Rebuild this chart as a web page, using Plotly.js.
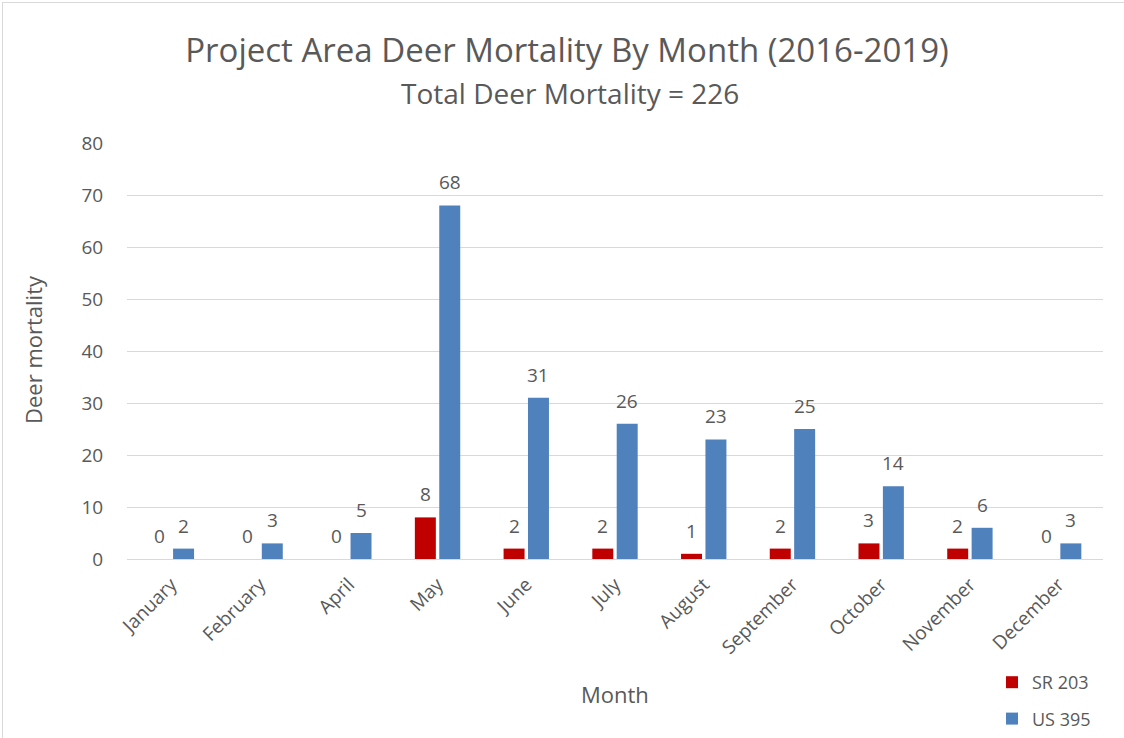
<!DOCTYPE html>
<html><head><meta charset="utf-8">
<script src="https://cdn.plot.ly/plotly-3.0.1.min.js"></script>
<style>
body{margin:0;padding:0;background:#fff;}
#frame{position:absolute;left:2px;top:2px;width:1200px;height:800px;border:1px solid #d9d9d9;}
#chart{position:absolute;left:0;top:0;width:1124px;height:738px;}
</style></head>
<body><div id="frame"></div><div id="chart"></div>
<script>
const months = ["January","February","April","May","June","July","August","September","October","November","December"];
const sr203 = [0,0,0,8,2,2,1,2,3,2,0];
const us395 = [2,3,5,68,31,26,23,25,14,6,3];
const FONT = "'Open Sans', sans-serif";
const TXT = "#595959";

const PLOT_W = 976, PLOT_H = 416, NCAT = months.length, BARGAP = 0.45;
const slot = PLOT_W / NCAT * (1 - BARGAP) / 2;

const traces = [
 {type:'bar', name:'SR 203', x:months, y:sr203, marker:{color:'#c00000'}, legendgroup:'a', hoverinfo:'y'},
 {type:'bar', name:'US 395', x:months, y:us395, marker:{color:'#4f81bd'}, legendgroup:'b', hoverinfo:'y'}
];
const labels = [];
[[sr203,-slot/2],[us395,slot/2]].forEach(([vals,dx])=>{
  vals.forEach((v,i)=>labels.push({x:months[i], y:v, xref:'x', yref:'y', text:String(v), showarrow:false,
    xshift:dx, yshift:23, xanchor:'center', yanchor:'middle', font:{family:FONT,size:19,color:TXT}}));
});
labels.push({text:'Total Deer Mortality = 226', xref:'paper', yref:'paper', x:(570-127)/PLOT_W, y:(559-93)/PLOT_H,
   xanchor:'center', yanchor:'middle', showarrow:false, font:{family:FONT,size:28,color:TXT}});
labels.push({text:'Month', xref:'paper', yref:'paper', x:0.5, y:(559-694)/PLOT_H,
   xanchor:'center', yanchor:'middle', showarrow:false, font:{family:FONT,size:22,color:TXT}});
labels.push({text:'Deer mortality', xref:'paper', yref:'paper', x:(33-127)/PLOT_W, y:(559-350)/PLOT_H, textangle:-90,
   xanchor:'center', yanchor:'middle', showarrow:false, font:{family:FONT,size:22,color:TXT}});

const layout = {
 width:1124, height:738, paper_bgcolor:'rgba(0,0,0,0)', plot_bgcolor:'rgba(0,0,0,0)',
 margin:{l:127,r:21,t:143,b:179,autoexpand:false},
 font:{family:FONT,color:TXT,size:18},
 title:{text:'Project Area Deer Mortality By Month (2016-2019)', font:{family:FONT,size:33,color:TXT},
   x:567/1124, xanchor:'center', y:1-50/738, yanchor:'middle'},
 annotations:labels,
 barmode:'group', bargap:BARGAP, bargroupgap:0.14,
 xaxis:{type:'category', tickangle:-45, tickfont:{size:19,color:TXT}, showgrid:false, automargin:false,
   showline:true, linecolor:'#d9d9d9', ticks:'outside', ticklen:6, tickcolor:'rgba(0,0,0,0)'},
 yaxis:{range:[0,80], dtick:10, tickfont:{size:19,color:TXT}, gridcolor:'#d9d9d9', gridwidth:1, automargin:false,
   zeroline:false, showline:false, ticks:'outside', ticklen:19, tickcolor:'rgba(0,0,0,0)'},
 showlegend:true,
 legend:{x:(992-127)/PLOT_W, xanchor:'left', y:(559-664)/PLOT_H, yanchor:'top',
   font:{size:18,color:TXT}, tracegroupgap:10, bgcolor:'rgba(0,0,0,0)', itemwidth:30}
};
Plotly.newPlot('chart', traces, layout, {displayModeBar:false, staticPlot:true});
</script></body></html>
